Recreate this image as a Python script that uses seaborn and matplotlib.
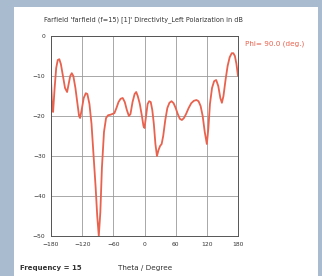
import matplotlib
matplotlib.use("Agg")
import matplotlib.pyplot as plt
import seaborn as sns
import pandas as pd
from matplotlib.patches import Rectangle

# Farfield cut at phi = 90 deg
theta = [-180, -178, -176, -173, -170, -167, -164, -161, -157, -153, -149, -146,
         -143, -140, -137, -133, -129, -126, -124, -121, -117, -113, -110, -106,
         -102, -98, -94, -91, -88, -85, -82, -78, -74, -70, -66, -62, -58, -54,
         -50, -46, -42, -38, -34, -30, -27, -23, -19, -16, -13, -9, -5, -2, 0,
         3, 6, 9, 12, 15, 18, 21, 24, 27, 30, 33, 36, 40, 44, 48, 52, 56, 60,
         64, 68, 72, 76, 80, 85, 90, 95, 100, 104, 108, 112, 116, 120, 123, 126,
         130, 134, 138, 142, 146, 149, 152, 156, 160, 164, 168, 171, 174, 177, 180]
directivity = [-11, -17, -19, -13, -8, -6, -5.8, -7, -10, -13, -14, -12,
               -10, -9.3, -10, -13, -17, -20, -20.5, -18.5, -15.5, -14.3, -14.5, -17,
               -22, -30, -38, -45, -50, -44, -33, -24, -20.5, -19.8, -19.7, -19.5, -19.3, -18,
               -16.5, -15.7, -15.5, -16.5, -18.5, -20, -19.5, -16.5, -14.5, -14, -15, -17, -20, -22.5, -23,
               -20, -17, -16.3, -16.5, -18.5, -22, -27, -30, -28.5, -27.5, -27, -25, -21, -18, -16.7, -16.3, -16.8, -18,
               -19.5, -20.7, -21, -20.5, -19.5, -18, -16.8, -16.2, -16, -16.3, -17.5, -20, -24, -27, -23, -17,
               -13, -11.3, -11, -12.5, -15.5, -16.7, -15, -11, -7.5, -5.3, -4.3, -4.3, -5, -7, -10]
x_ticks = [-180, -120, -60, 0, 60, 120, 180]
y_ticks = [0, -10, -20, -30, -40, -50]

df = pd.DataFrame({'theta': theta, 'dB': directivity})

sns.set_style('white')
plt.rcParams['font.family'] = ['DejaVu Sans']

fig = plt.figure(figsize=(3.22, 2.76), dpi=100)
fig.patch.set_facecolor('#a9bbcf')
# white panel behind the chart
fig.patches.append(Rectangle((14 / 322, 0), 304 / 322, 269 / 276, transform=fig.transFigure,
                             facecolor='white', edgecolor='none', zorder=-1))

ax = fig.add_axes([51 / 322, 40 / 276, 187 / 322, 200 / 276])
ax.set_zorder(2)
ax.set_facecolor('white')
sns.lineplot(data=df, x='theta', y='dB', ax=ax, color='#e8624e', linewidth=1.3)

ax.set_xlim(-180, 180)
ax.set_ylim(-50, 0)
ax.set_xticks(x_ticks)
ax.set_yticks(y_ticks)
ax.tick_params(labelsize=4.3, length=2, width=0.5, pad=2, colors='#333333')
ax.grid(True, color='#9a9a9a', linewidth=0.6)
for s in ax.spines.values():
    s.set_color('#555555')
    s.set_linewidth(0.7)
ax.set_xlabel('')
ax.set_ylabel('')

fig.text(44 / 322, 1 - 20 / 276, "Farfield 'farfield (f=15) [1]' Directivity_Left Polarization in dB",
         fontsize=4.7, color='#333333', va='center')
fig.text(245 / 322, 1 - 44 / 276, 'Phi= 90.0 (deg.)', fontsize=5.2, color='#e8624e', va='center')
fig.text(20 / 322, 1 - 268 / 276, 'Frequency = 15', fontsize=5, fontweight='bold',
         color='#333333', va='center')
fig.text(118 / 322, 1 - 268 / 276, 'Theta / Degree', fontsize=5.2, color='#333333', va='center')

fig.savefig('out.png', dpi=100, facecolor=fig.get_facecolor())
